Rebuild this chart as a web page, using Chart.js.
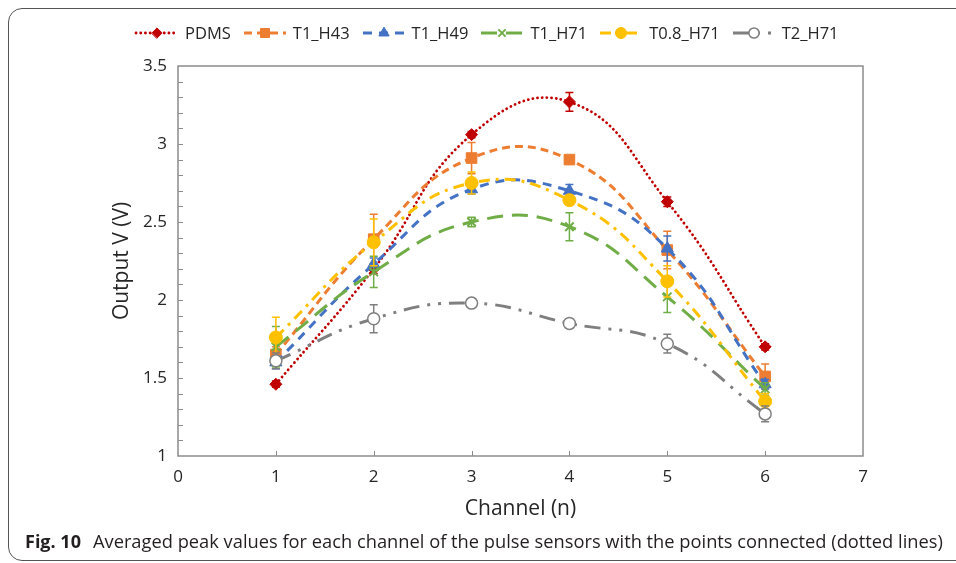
<!DOCTYPE html>
<html><head><meta charset="utf-8">
<script src="https://cdn.jsdelivr.net/npm/chart.js@4.4.1/dist/chart.umd.min.js"></script>
<style>
html,body{margin:0;padding:0;background:#fff;}
#wrap{position:relative;width:956px;height:563px;overflow:hidden;font-family:"Open Sans",sans-serif;}
#frame{position:absolute;left:8px;top:8px;width:990px;height:553px;border:1.3px solid #555;border-radius:14px;box-sizing:border-box;}
#c{position:absolute;left:0;top:0;}
#legend{position:absolute;top:21px;left:134px;display:flex;align-items:center;white-space:nowrap;font-size:16.5px;color:#262626;}
.item{display:flex;align-items:center;margin-right:11px;}
.item canvas{margin-right:5px;}
#caption{position:absolute;left:25px;top:528px;font-size:18px;white-space:nowrap;color:#231f20;}
#caption b{font-weight:700;margin-right:12px;}
</style></head>
<body><div id="wrap">
<div id="frame"></div>
<canvas id="c" width="956" height="563"></canvas>
<div id="legend"></div>
<div id="caption"><b>Fig. 10</b><span id="captext">Averaged peak values for each channel of the pulse sensors with the points connected (dotted lines)</span></div>
</div>
<script>
const channels = [1, 2, 3, 4, 5, 6];
const seriesNames = ['PDMS', 'T1_H43', 'T1_H49', 'T1_H71', 'T0.8_H71', 'T2_H71'];
const pdms   = [1.46, 2.20, 3.06, 3.27, 2.63, 1.70];
const t1h43  = [1.65, 2.39, 2.91, 2.90, 2.32, 1.51];
const t1h49  = [1.60, 2.23, 2.71, 2.70, 2.33, 1.46];
const t1h71  = [1.70, 2.18, 2.50, 2.47, 2.02, 1.43];
const t08h71 = [1.76, 2.37, 2.75, 2.64, 2.12, 1.35];
const t2h71  = [1.61, 1.88, 1.98, 1.85, 1.72, 1.27];
const errPdms   = [0.02, 0.03, 0.02, 0.06, 0.03, 0.02];
const errT1h43  = [0.05, 0.16, 0.10, 0.02, 0.12, 0.08];
const errT1h49  = [0.04, 0.04, 0.03, 0.04, 0.08, 0.03];
const errT1h71  = [0.13, 0.10, 0.03, 0.09, 0.10, 0.04];
const errT08h71 = [0.13, 0.15, 0.07, 0.03, 0.10, 0.05];
const errT2h71  = [0.05, 0.09, 0.02, 0.03, 0.06, 0.05];
const xTickLabels = ['0', '1', '2', '3', '4', '5', '6', '7'];
const yTickLabels = ['1', '1.5', '2', '2.5', '3', '3.5'];

const values = [pdms, t1h43, t1h49, t1h71, t08h71, t2h71];
const errors = [errPdms, errT1h43, errT1h49, errT1h71, errT08h71, errT2h71];
const styles = [
  {color:'#C00000', dash:[0.1,4.6], cap:'round', width:2.8, point:'rectRot', r:6, bg:'#C00000', pbw:1},
  {color:'#ED7D31', dash:[8,5], cap:'butt', width:3, point:'rect', r:7.5, bg:'#ED7D31', pbw:1},
  {color:'#4472C4', dash:[9,7], cap:'butt', width:3, point:'triangle', r:7, bg:'#4472C4', pbw:1},
  {color:'#70AD47', dash:[16,9], cap:'butt', width:3, point:'crossRot', r:6, bg:'#70AD47', pbw:2},
  {color:'#FFC000', dash:[11,6,3,6], cap:'butt', width:3, point:'circle', r:6.5, bg:'#FFC000', pbw:1},
  {color:'#7F7F7F', dash:[16,8,3,8,3,8], cap:'butt', width:3, point:'circle', r:6, bg:'#FFFFFF', pbw:1.5}
];

const datasets = seriesNames.map((name, i) => ({
  label: name,
  data: channels.map((c, j) => ({x: c, y: values[i][j]})),
  borderColor: styles[i].color,
  borderWidth: styles[i].width,
  borderDash: styles[i].dash,
  borderCapStyle: styles[i].cap,
  tension: 0.45,
  pointStyle: styles[i].point,
  pointRadius: styles[i].r,
  pointBackgroundColor: styles[i].bg,
  pointBorderColor: styles[i].color,
  pointBorderWidth: styles[i].pbw,
  order: 6 - i,
  fill: false
}));

const decor = {
  id: 'decor',
  beforeDatasetsDraw(chart) {
    const {ctx, chartArea: a, scales: {x, y}} = chart;
    ctx.save();
    ctx.strokeStyle = '#8c8c8c';
    ctx.lineWidth = 1.5;
    ctx.strokeRect(a.left, a.top, a.right - a.left, a.bottom - a.top);
    ctx.beginPath();
    for (let k = 11; k < 35; k++) {
      const py = Math.round(y.getPixelForValue(k / 10)) + 0.5;
      ctx.moveTo(a.left, py); ctx.lineTo(a.left + 5, py);
    }
    for (let k = 1; k < 7; k++) {
      const px = Math.round(x.getPixelForValue(k)) + 0.5;
      ctx.moveTo(px, a.bottom); ctx.lineTo(px, a.bottom - 5);
    }
    ctx.lineWidth = 1;
    ctx.stroke();
    ctx.restore();
  },
  beforeDatasetDraw(chart, args) {
    const i = args.index;
    const {ctx, scales: {x, y}} = chart;
    ctx.save();
    ctx.strokeStyle = styles[i].color;
    ctx.lineWidth = 1.5;
    ctx.beginPath();
    channels.forEach((c, j) => {
      const px = x.getPixelForValue(c);
      const y1 = y.getPixelForValue(values[i][j] + errors[i][j]);
      const y2 = y.getPixelForValue(values[i][j] - errors[i][j]);
      ctx.moveTo(px, y1); ctx.lineTo(px, y2);
      ctx.moveTo(px - 4, y1); ctx.lineTo(px + 4, y1);
      ctx.moveTo(px - 4, y2); ctx.lineTo(px + 4, y2);
    });
    ctx.stroke();
    ctx.restore();
  }
};

const tickFont = {family: '"Open Sans", sans-serif', size: 17};
const titleFont = {family: '"Open Sans", sans-serif', size: 21};

new Chart(document.getElementById('c'), {
  type: 'line',
  data: {datasets},
  options: {
    responsive: false,
    animation: false,
    layout: {padding: {left: 105, top: 66, right: 93, bottom: 37}},
    plugins: {legend: {display: false}, tooltip: {enabled: false}},
    scales: {
      x: {
        type: 'linear', min: 0, max: 7,
        grid: {display: false, drawTicks: false},
        border: {display: false},
        ticks: {stepSize: 1, padding: 11, font: tickFont, color: '#262626',
                callback: (v) => xTickLabels[v]},
        title: {display: true, text: 'Channel (n)', font: titleFont, color: '#262626'},
        afterFit: (s) => { s.height = 70; }
      },
      y: {
        type: 'linear', min: 1, max: 3.5,
        grid: {display: false, drawTicks: false},
        border: {display: false},
        ticks: {stepSize: 0.5, padding: 11, font: tickFont, color: '#262626',
                callback: (v, idx) => yTickLabels[idx]},
        title: {display: true, text: 'Output V (V)', font: titleFont, color: '#262626'},
        afterFit: (s) => { s.width = 73; }
      }
    }
  },
  plugins: [decor]
});

// HTML legend with line samples
const legend = document.getElementById('legend');
seriesNames.forEach((name, i) => {
  const st = styles[i];
  const item = document.createElement('div');
  item.className = 'item';
  const cv = document.createElement('canvas');
  cv.width = 46; cv.height = 18;
  const cx = cv.getContext('2d');
  cx.strokeStyle = st.color;
  cx.lineWidth = st.width;
  cx.lineCap = st.cap;
  cx.setLineDash(st.dash);
  cx.beginPath(); cx.moveTo(2, 9); cx.lineTo(44, 9); cx.stroke();
  cx.setLineDash([]);
  cx.fillStyle = st.bg; cx.strokeStyle = st.color; cx.lineWidth = st.pbw;
  Chart.helpers.drawPoint(cx, {pointStyle: st.point, radius: st.r * 0.85, rotation: 0, borderWidth: st.pbw}, 23, 9);
  const sp = document.createElement('span');
  sp.textContent = name;
  item.appendChild(cv); item.appendChild(sp);
  legend.appendChild(item);
});

// fit caption sentence to the reference width (ends near the right edge)
const cap = document.getElementById('captext');
const w = cap.getBoundingClientRect().width;
const target = 851;
cap.style.fontSize = (18 * target / w).toFixed(2) + 'px';
</script>
</body></html>
